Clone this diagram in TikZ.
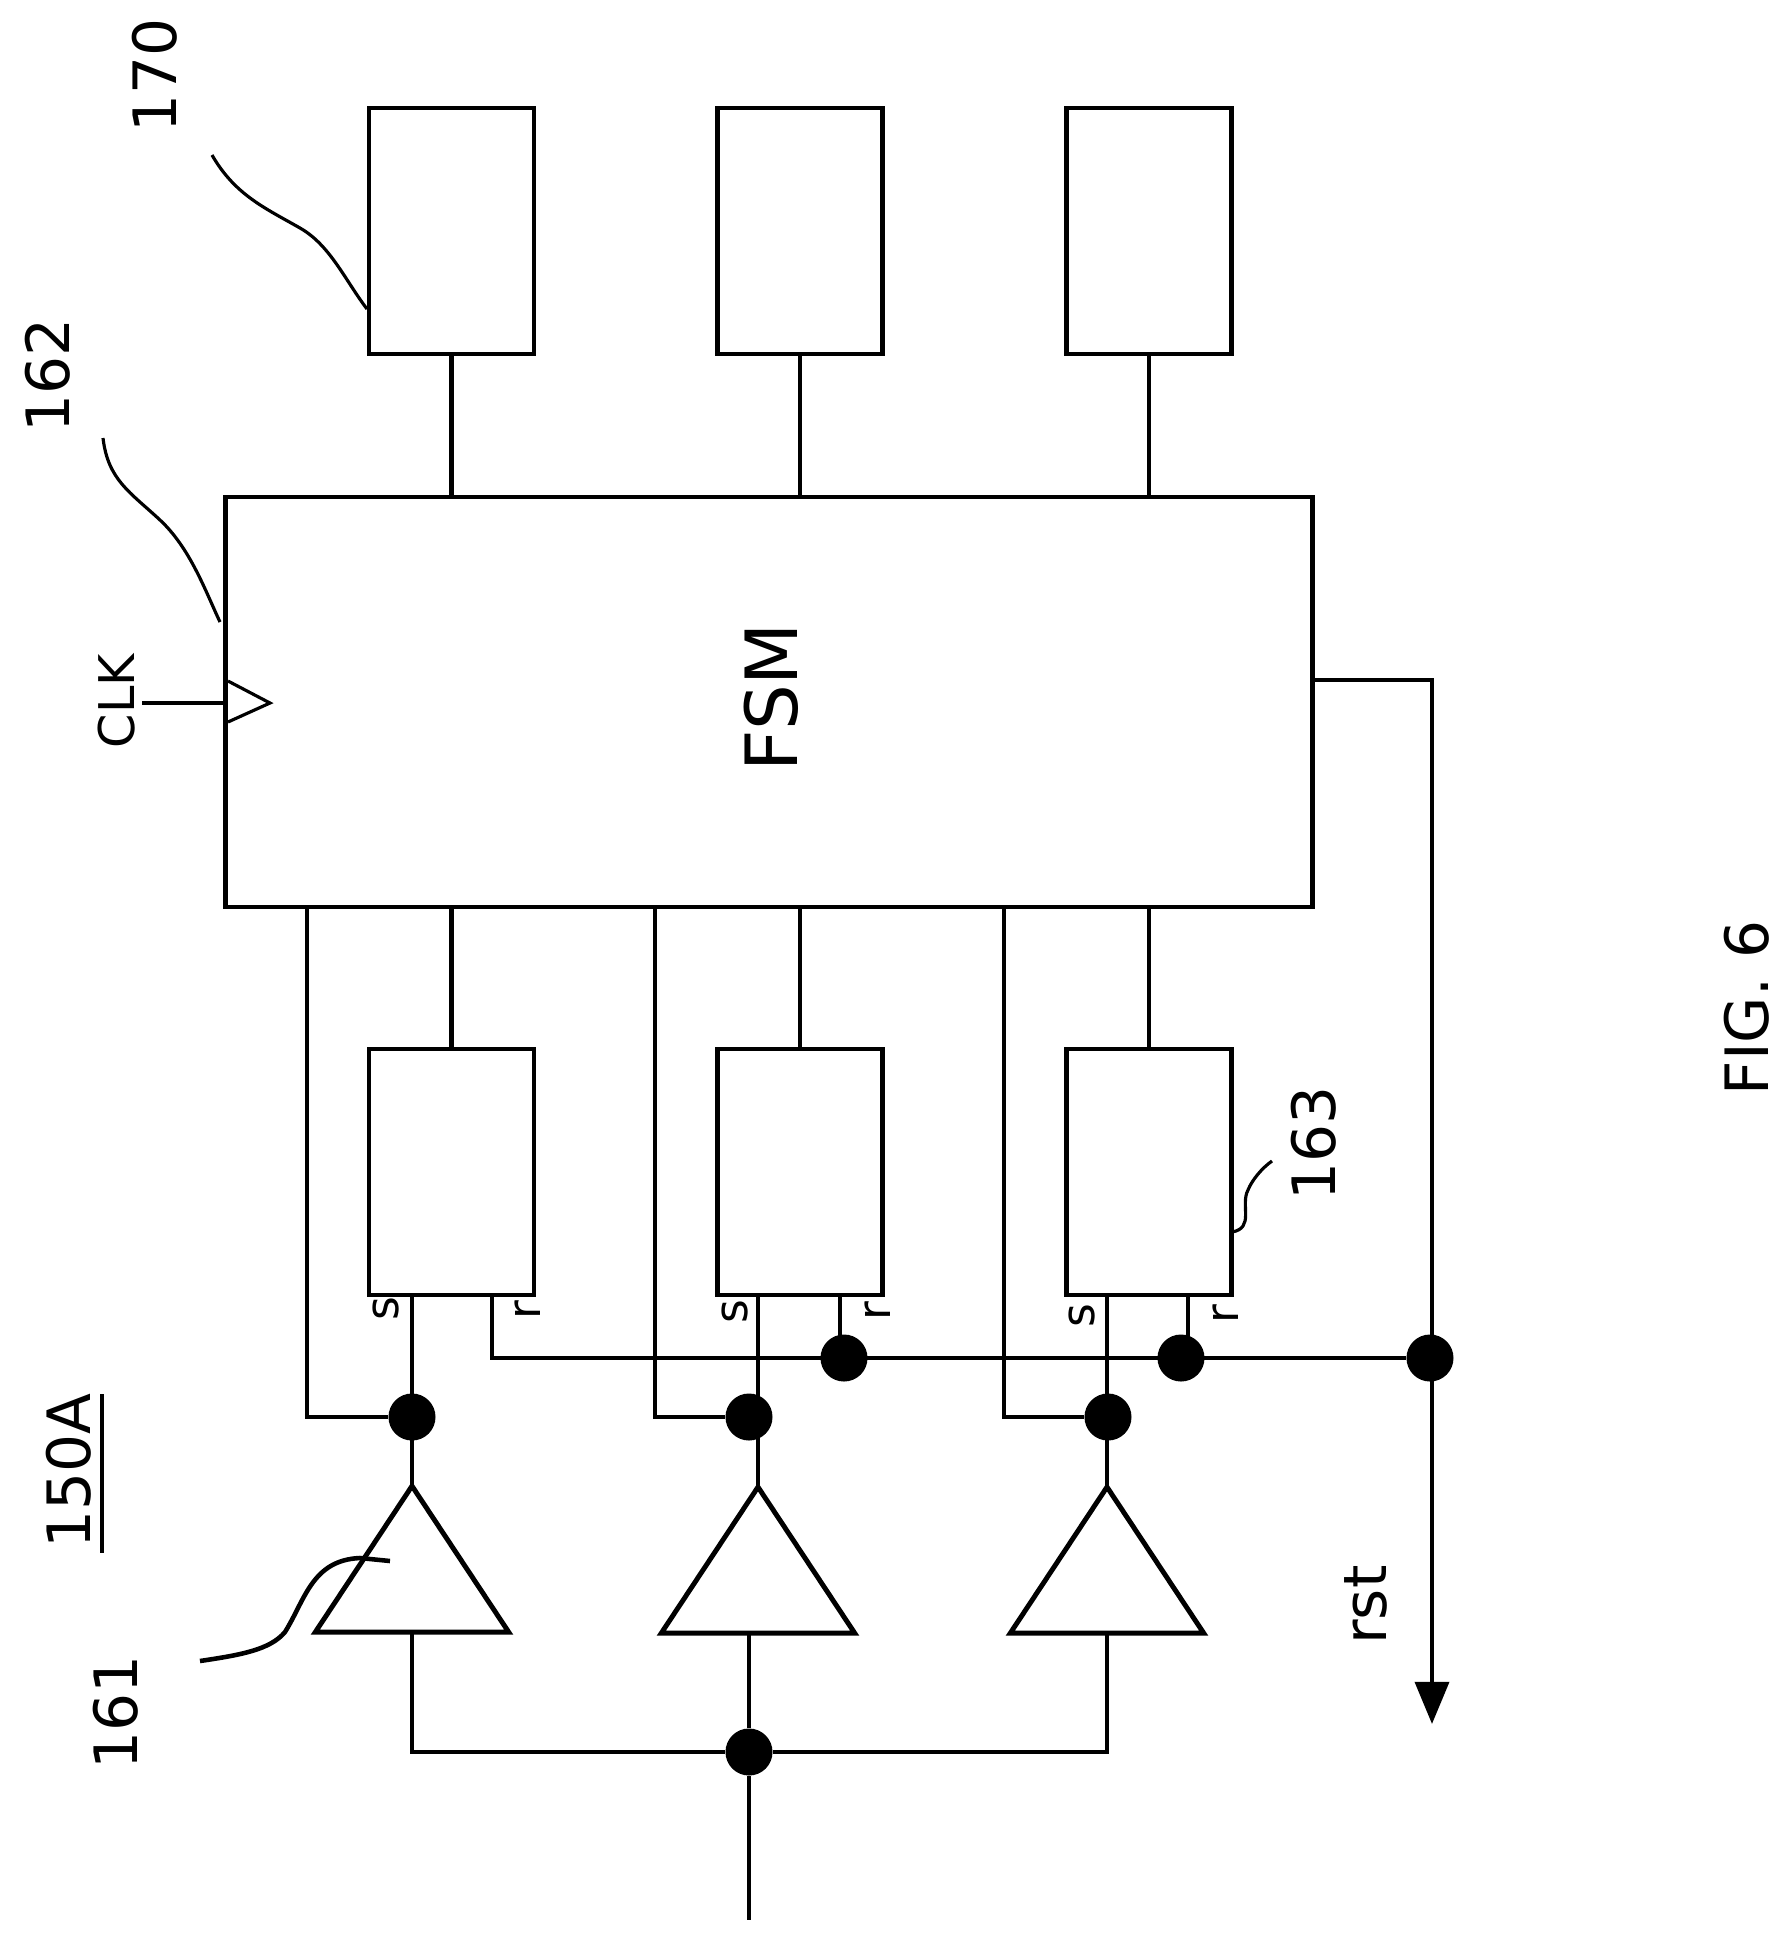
\documentclass[tikz,border=0pt]{standalone}
\usepackage{fontspec}
\setmainfont{DejaVu Sans}
\usetikzlibrary{positioning,arrows.meta,shapes.geometric}
\tikzset{
  >={Stealth[length=12pt,width=9.6pt,inset=0pt]},
  block/.style={
    rectangle,
    draw=black, line width=1.3pt,
    minimum width=1.65cm,
    minimum height=2.46cm,
    outer sep=0pt},
  bigblock/.style={
    rectangle,
    draw=black, line width=1.3pt,
    minimum width=10.86cm,
    minimum height=4.10cm,
    outer sep=0pt},
  amp/.style={
    isosceles triangle,
    isosceles triangle apex angle=67,
    shape border rotate=90,
    anchor=apex,
    draw=black, line width=1.4pt,
    minimum height=1.46cm,
    inner sep=0pt, outer sep=0pt},
  dot/.style={
    circle, fill=black,
    minimum size=.47cm,
    inner sep=0pt},
  wire/.style={draw, line width=1.3pt},
  leader/.style={draw, line width=.9pt},
  refnum/.style={rotate=90, inner sep=0pt, font=\fontsize{17}{20}\selectfont},
  pinlabel/.style={rotate=90, inner sep=0pt, font=\fontsize{13}{15}\selectfont},
}
\begin{document}
\begin{tikzpicture}
  [x=.01cm, y=-.01cm,
  node distance=1.835cm,]
  \useasboundingbox (0,0) rectangle (1792,1941);
    % output blocks
    \node[block] (outA) at (451.5,231) {};
    \node[block, right=of outA] (outB) {};
    \node[block, right=of outB] (outC) {};
    \node[bigblock] (fsm) at (769,702) {};
    \node[rotate=90, font=\fontsize{20.5}{24}\selectfont] (fsmtext) at (771,697) {FSM};
    % registers
    \node[block] (regA) at (451.5,1172) {};
    \node[block, right=of regA] (regB) {};
    \node[block, right=of regB] (regC) {};
    % amplifiers
    \node[amp] (ampA) at (412,1486) {};
    \node[amp] (ampB) at (758,1487) {};
    \node[amp] (ampC) at (1107,1487) {};
    % junctions
    \node[dot] (jsA) at (412,1417) {};
    \node[dot] (jsB) at (749,1417) {};
    \node[dot] (jsC) at (1108,1417) {};
    \node[dot] (jrB) at (844,1358) {};
    \node[dot] (jrC) at (1181,1358) {};
    \node[dot] (jrD) at (1430,1358) {};
    \node[dot] (jin) at (749,1752) {};
    % free wire ends
    \coordinate (tapA) at (307,907);
    \coordinate (tapB) at (655,907);
    \coordinate (tapC) at (1004,907);
    \coordinate (rstA) at (492,1295);
    \coordinate (rstB) at (840,1295);
    \coordinate (rstC) at (1188,1295);
    \coordinate (fsmout) at (1312,680);
    \coordinate (rstend) at (1432,1724);
    \coordinate (inend) at (749,1920);
    \coordinate (clkin) at (142,703);
    \coordinate (clkA) at (228,681);
    \coordinate (clkB) at (270,703);
    \coordinate (clkC) at (228,722);
    \coordinate (ulA) at (102,1394);
    \coordinate (ulB) at (102,1553);
    %
    \draw[wire] (outA.south) -- (outA.south |- fsm.north);
    \draw[wire] (outB.south) -- (outB.south |- fsm.north);
    \draw[wire] (outC.south) -- (outC.south |- fsm.north);
    \draw[wire] (regA.north) -- (regA.north |- fsm.south);
    \draw[wire] (regB.north) -- (regB.north |- fsm.south);
    \draw[wire] (regC.north) -- (regC.north |- fsm.south);
    \draw[wire] (tapA) |- (jsA);
    \draw[wire] (tapB) |- (jsB);
    \draw[wire] (tapC) |- (jsC);
    \draw[wire] (ampA.apex) -- (ampA.apex |- regA.south);
    \draw[wire] (ampB.apex) -- (ampB.apex |- regB.south);
    \draw[wire] (ampC.apex) -- (ampC.apex |- regC.south);
    \draw[wire] (rstA) |- (jrD);
    \draw[wire] (rstB) -- (rstB |- jrB);
    \draw[wire] (rstC) -- (rstC |- jrC);
    \draw[wire, ->] (fsmout) -| (rstend);
    \draw[wire] (ampA.lower side) |- (jin) -| (ampC.lower side);
    \draw[wire] (jin) -- (jin |- ampB.lower side);
    \draw[wire] (jin) -- (inend);
    % clock
    \draw[leader] (clkin) -- (clkin -| fsm.west);
    \draw[leader] (clkA) -- (clkB) -- (clkC);
    % leader lines
    \draw[leader] (212,155) .. controls (235,195) and (265,208) .. (300,228)
      .. controls (330,245) and (345,280) .. (367,309);
    \draw[leader] (103,438) .. controls (108,480) and (130,492) .. (160,520)
      .. controls (190,548) and (205,590) .. (220,622);
    \draw[wire] (200,1661) .. controls (240,1655) and (270,1650) .. (285,1632)
      .. controls (305,1600) and (312,1560) .. (360,1558) -- (390,1561);
    \draw[leader] (1232,1232) .. controls (1255,1228) and (1240,1205) .. (1248,1190)
      .. controls (1252,1180) and (1262,1168) .. (1272,1161);
    \draw[wire] (ulA) -- (ulB);
    % labels
    \node[refnum] (lbl170) at (155,75) {170};
    \node[refnum] (lbl162) at (48,375) {162};
    \node[refnum] (lbl163) at (1314,1143) {163};
    \node[refnum] (lbl161) at (116,1712) {161};
    \node[refnum] (lbl150) at (69,1471) {150A};
    \node[refnum] (lblrst) at (1366,1605) {rst};
    \node[refnum] (lblfig) at (1747,1008) {FIG. 6};
    \node[rotate=90, inner sep=0pt, font=\fontsize{14}{16}\selectfont] (lblclk) at (117,701) {CLK};
    \node[pinlabel] (sA) at (386,1309) {s};
    \node[pinlabel] (sB) at (735,1312) {s};
    \node[pinlabel] (sC) at (1082,1316) {s};
    \node[pinlabel] (rA) at (528,1310) {r};
    \node[pinlabel] (rB) at (878,1311) {r};
    \node[pinlabel] (rC) at (1226,1314) {r};
  \end{tikzpicture}
\end{document}
